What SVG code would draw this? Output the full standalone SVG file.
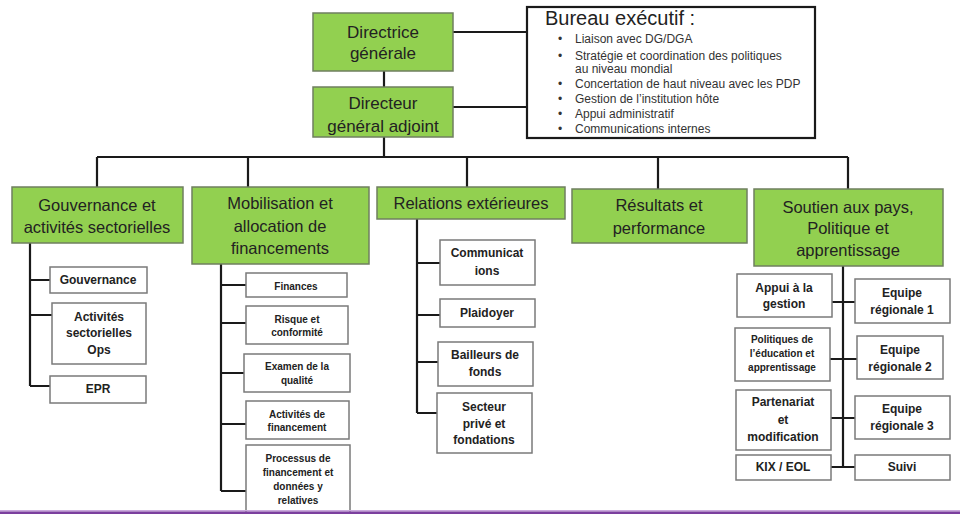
<svg xmlns="http://www.w3.org/2000/svg" width="960" height="514" viewBox="0 0 960 514">
<style>
.g{fill:#92D050;stroke:#6f7f5f;stroke-width:1.5}
.w{fill:#fff;stroke:#7a7a7a;stroke-width:1.5}
.c{fill:none;stroke:#1a1a1a;stroke-width:2.2}
.t{font-family:"Liberation Sans",Arial,sans-serif;fill:#222;text-anchor:middle}
.gt{font-size:16.5px}
.tt{font-size:17px}
.s{font-size:12px;font-weight:bold}
.sm{font-size:10px;font-weight:bold}
.b{font-family:"Liberation Sans",Arial,sans-serif;fill:#333;font-size:12px}
</style>
<rect x="0" y="0" width="960" height="514" fill="#fff"/>
<g id="connectors">
<path class="c" d="M384 71V87M384 137V157M97 157H848M97 157V187M248 157V187M467 157V187M658 157V189M848 157V189"/>
<path class="c" d="M453 32H528M453 107H528"/>
<path class="c" d="M30 243V386M30 280H50M30 315H52M30 386H50"/>
<path class="c" d="M221 264V491M221 285H246M221 323H246M221 373H244M221 424H246M221 491H246"/>
<path class="c" d="M417 219V413M417 263H440M417 315H440M417 362H438M417 413H437"/>
<path class="c" d="M843 266V467M832 302H855M830 359H857M831 418H855M831 467H855"/>
</g>
<g id="directrice"><rect class="g" x="313" y="13" width="140" height="58"/><text class="t tt" x="383" y="38">Directrice</text><text class="t tt" x="383" y="59">générale</text></g>
<g id="directeur"><rect class="g" x="313" y="87" width="140" height="50"/><text class="t tt" x="383" y="109">Directeur</text><text class="t tt" x="383" y="132">général adjoint</text></g>
<g id="bureau"><rect x="527" y="7" width="288" height="131" fill="#fff" stroke="#1a1a1a" stroke-width="2.2"/>
<text x="545" y="25" font-family="Liberation Sans,Arial,sans-serif" font-size="20" fill="#222">Bureau exécutif :</text>
<g class="b"><text x="558" y="43">•</text><text x="575" y="43">Liaison avec DG/DGA</text>
<text x="558" y="60">•</text><text x="575" y="60">Stratégie et coordination des politiques</text><text x="575" y="73">au niveau mondial</text>
<text x="558" y="88">•</text><text x="575" y="88">Concertation de haut niveau avec les PDP</text>
<text x="558" y="103">•</text><text x="575" y="103">Gestion de l’institution hôte</text>
<text x="558" y="118">•</text><text x="575" y="118">Appui administratif</text>
<text x="558" y="133">•</text><text x="575" y="133">Communications internes</text></g></g>
<g id="gouvernance-activites"><rect class="g" x="12" y="187" width="171" height="56"/><text class="t gt" x="97" y="211">Gouvernance et</text><text class="t gt" x="97" y="233">activités sectorielles</text></g>
<g id="mobilisation"><rect class="g" x="192" y="187" width="177" height="77"/><text class="t gt" x="280" y="209">Mobilisation et</text><text class="t gt" x="280" y="232">allocation de</text><text class="t gt" x="280" y="254">financements</text></g>
<g id="relations"><rect class="g" x="377" y="187" width="188" height="32"/><text class="t gt" x="471" y="209">Relations extérieures</text></g>
<g id="resultats"><rect class="g" x="572" y="189" width="175" height="54"/><text class="t gt" x="659" y="211">Résultats et</text><text class="t gt" x="659" y="234">performance</text></g>
<g id="soutien"><rect class="g" x="754" y="189" width="189" height="77"/><text class="t gt" x="848" y="213">Soutien aux pays,</text><text class="t gt" x="848" y="234">Politique et</text><text class="t gt" x="848" y="256">apprentissage</text></g>
<g id="gouvernance"><rect class="w" x="50" y="267" width="97" height="26"/><text class="t s" x="98" y="284">Gouvernance</text></g>
<g id="activites-ops"><rect class="w" x="52" y="303" width="94" height="61"/><text class="t s" x="99" y="321">Activités</text><text class="t s" x="99" y="337">sectorielles</text><text class="t s" x="99" y="354">Ops</text></g>
<g id="epr"><rect class="w" x="50" y="376" width="96" height="27"/><text class="t s" x="98" y="393">EPR</text></g>
<g id="finances"><rect class="w" x="246" y="273" width="101" height="24"/><text class="t sm" x="296" y="290">Finances</text></g>
<g id="risque"><rect class="w" x="246" y="306" width="102" height="38"/><text class="t sm" x="297" y="323">Risque et</text><text class="t sm" x="297" y="336">conformité</text></g>
<g id="examen"><rect class="w" x="244" y="354" width="106" height="38"/><text class="t sm" x="297" y="370">Examen de la</text><text class="t sm" x="297" y="384">qualité</text></g>
<g id="activites-financement"><rect class="w" x="246" y="401" width="103" height="38"/><text class="t sm" x="297" y="418">Activités de</text><text class="t sm" x="297" y="431">financement</text></g>
<g id="processus"><rect class="w" x="246" y="445" width="104" height="72"/><text class="t sm" x="298" y="462">Processus de</text><text class="t sm" x="298" y="476">financement et</text><text class="t sm" x="298" y="490">données y</text><text class="t sm" x="298" y="504">relatives</text></g>
<g id="communications"><rect class="w" x="440" y="240" width="95" height="45"/><text class="t s" x="487" y="257">Communicat</text><text class="t s" x="487" y="275">ions</text></g>
<g id="plaidoyer"><rect class="w" x="440" y="299" width="95" height="28"/><text class="t s" x="487" y="317">Plaidoyer</text></g>
<g id="bailleurs"><rect class="w" x="438" y="342" width="95" height="44"/><text class="t s" x="485" y="359">Bailleurs de</text><text class="t s" x="485" y="376">fonds</text></g>
<g id="secteur"><rect class="w" x="437" y="393" width="95" height="60"/><text class="t s" x="484" y="411">Secteur</text><text class="t s" x="484" y="428">privé et</text><text class="t s" x="484" y="444">fondations</text></g>
<g id="appui"><rect class="w" x="737" y="274" width="95" height="43"/><text class="t s" x="784" y="292">Appui à la</text><text class="t s" x="784" y="308">gestion</text></g>
<g id="politiques"><rect class="w" x="735" y="328" width="95" height="53"/><text class="t sm" x="782" y="343">Politiques de</text><text class="t sm" x="782" y="357">l’éducation et</text><text class="t sm" x="782" y="371">apprentissage</text></g>
<g id="partenariat"><rect class="w" x="736" y="390" width="95" height="60"/><text class="t s" x="783" y="406">Partenariat</text><text class="t s" x="783" y="424">et</text><text class="t s" x="783" y="441">modification</text></g>
<g id="kix"><rect class="w" x="736" y="455" width="95" height="25"/><text class="t s" x="783" y="471">KIX / EOL</text></g>
<g id="equipe1"><rect class="w" x="855" y="279" width="95" height="44"/><text class="t s" x="902" y="297">Equipe</text><text class="t s" x="902" y="314">régionale 1</text></g>
<g id="equipe2"><rect class="w" x="857" y="336" width="86" height="43"/><text class="t s" x="900" y="354">Equipe</text><text class="t s" x="900" y="371">régionale 2</text></g>
<g id="equipe3"><rect class="w" x="855" y="396" width="95" height="43"/><text class="t s" x="902" y="413">Equipe</text><text class="t s" x="902" y="430">régionale 3</text></g>
<g id="suivi"><rect class="w" x="855" y="455" width="95" height="25"/><text class="t s" x="902" y="471">Suivi</text></g>
<rect x="0" y="510" width="960" height="1.5" fill="#c9a8dc"/>
<rect x="0" y="511.5" width="960" height="2.5" fill="#7b3f9e"/>
</svg>
